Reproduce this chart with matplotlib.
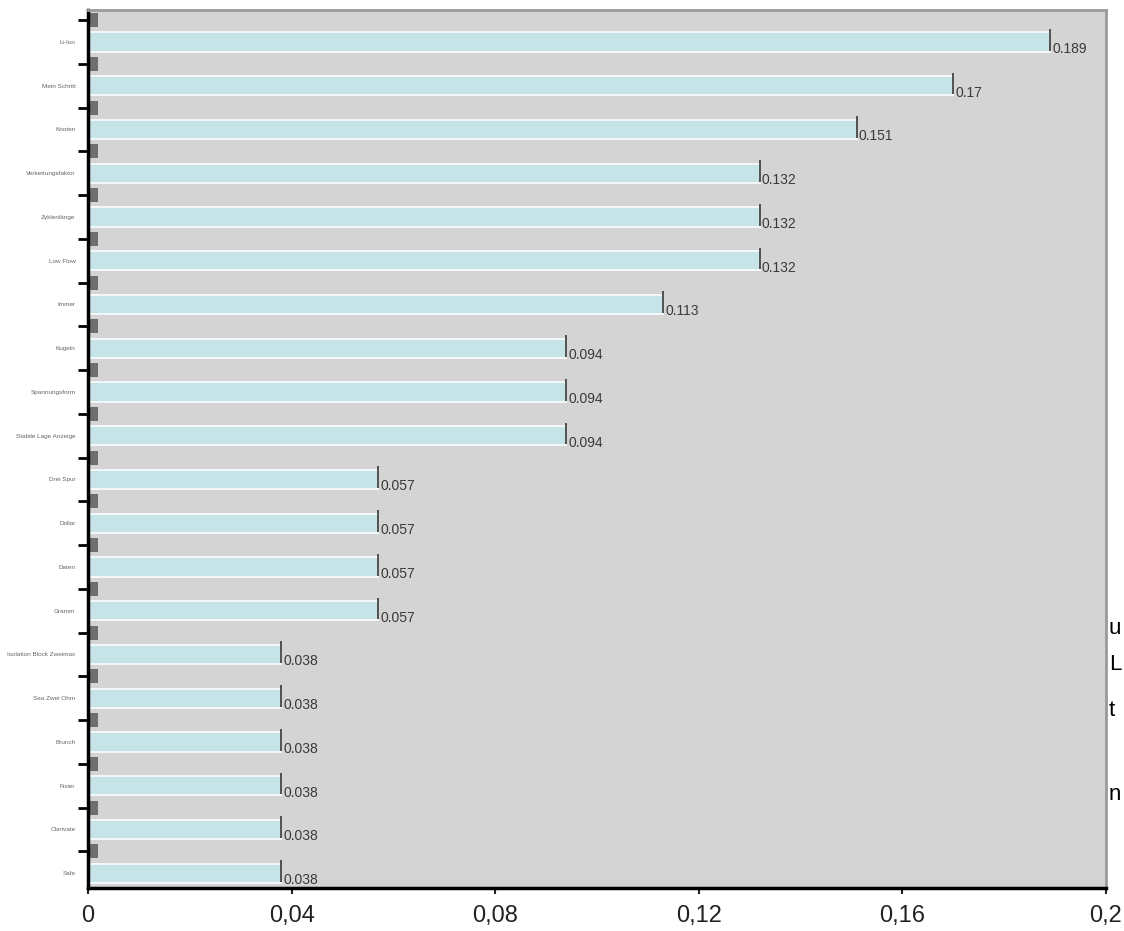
import matplotlib
matplotlib.use('Agg')
import matplotlib.pyplot as plt
import numpy as np

plt.rcParams['font.family'] = ['Liberation Sans', 'DejaVu Sans']

# categories (top to bottom) and their values
categories = ['Li-Ion', 'Mein Schritt', 'Knoten', 'Verkettungsfaktor', 'Zyklenlänge',
              'Low Flow', 'Immer', 'Kugeln', 'Spannungsform', 'Stabile Lage Anzeige',
              'Drei Spur', 'Dollar', 'Daten', 'Gramm', 'Isolation Block Zweimax',
              'Sea Zwei Ohm', 'Brunch', 'Fixier', 'Clarivate', 'Safe']
values = [0.189, 0.17, 0.151, 0.132, 0.132, 0.132, 0.113, 0.094, 0.094, 0.094,
          0.057, 0.057, 0.057, 0.057, 0.038, 0.038, 0.038, 0.038, 0.038, 0.038]
# small dark grey series drawn between the bars
second = [0.002, 0.002, 0.002, 0.002, 0.002, 0.002, 0.002, 0.002, 0.002, 0.002,
          0.002, 0.002, 0.002, 0.002, 0.002, 0.002, 0.002, 0.002, 0.002, 0.002]
xticks = [0, 0.04, 0.08, 0.12, 0.16, 0.2]
xticklabels = ['0', '0,04', '0,08', '0,12', '0,16', '0,2']

fig = plt.figure(figsize=(11.24, 9.31), dpi=100)
ax = fig.add_axes([88 / 1124, 1 - 888 / 931, (1106 - 88) / 1124, (888 - 10) / 931])
ax.set_facecolor('#d4d4d4')

y = np.arange(len(values))
ax.barh(y, values, height=0.44, color='#c6e4e7', edgecolor='#f4f8f8', linewidth=1.4, zorder=2)
ax.barh(y - 0.5, second, height=0.32, color='#6f6f6f', zorder=2)
ax.vlines(values, y - 0.3, y + 0.2, color='#444444', linewidth=1.3, zorder=3)

for yi, v in zip(y, values):
    ax.text(v + 0.0004, yi + 0.16, f'{v:g}', fontsize=10, color='#3a3a3a',
            va='center', ha='left', zorder=4)

ax.set_xlim(0, 0.2)
ax.set_ylim(len(values) - 0.66, -0.73)

ax.set_xticks(xticks)
ax.set_xticklabels(xticklabels, fontsize=17, color='#222222')
ax.tick_params(axis='x', direction='out', length=4, width=1.5, pad=8, color='#222222')

ax.set_yticks(y - 0.5)
ax.set_yticklabels([])
ax.set_yticks(y, minor=True)
ax.set_yticklabels(categories, minor=True, fontsize=4.6, color='#666666')
ax.tick_params(axis='y', which='major', direction='out', length=7, width=2, color='black')
ax.tick_params(axis='y', which='minor', length=0, pad=9)

for s in ['left', 'bottom']:
    ax.spines[s].set_linewidth(2.5)
    ax.spines[s].set_color('black')
for s in ['top', 'right']:
    ax.spines[s].set_linewidth(2)
    ax.spines[s].set_color('#9a9a9a')

# text fragments at the right edge
for txt, yy in [('u', 628), ('L', 664), ('t', 710), ('n', 795)]:
    fig.text(1109 / 1124, 1 - yy / 931, txt, fontsize=16, color='black', va='center', ha='left')

fig.savefig('out.png', dpi=100)
